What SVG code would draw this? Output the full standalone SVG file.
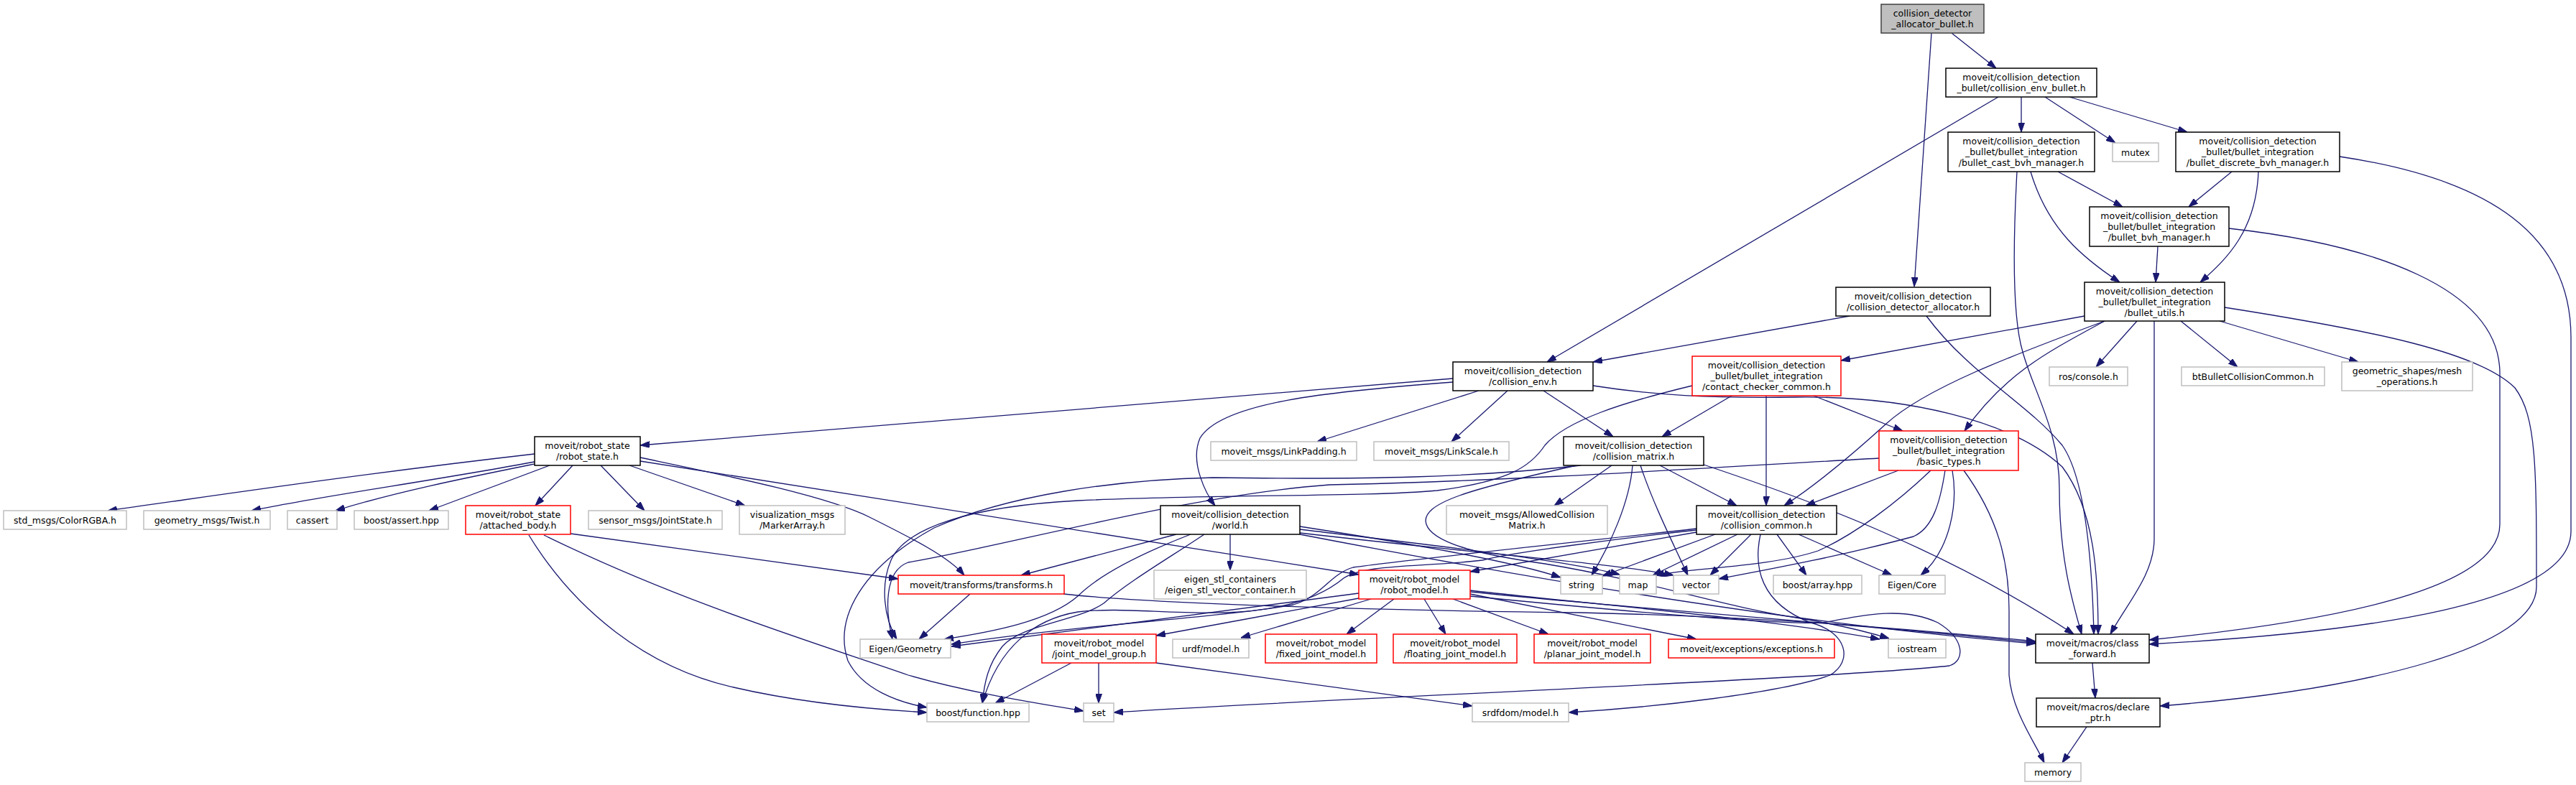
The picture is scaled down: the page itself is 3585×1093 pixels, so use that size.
<svg xmlns="http://www.w3.org/2000/svg" width="3585" height="1093" viewBox="0 0 3585 1093">
<defs>
<marker id="ah" viewBox="0 0 13 9" refX="13" refY="4.5" markerWidth="13" markerHeight="9" markerUnits="userSpaceOnUse" orient="auto"><path d="M0,0 L13,4.5 L0,9 z" fill="#191970" stroke="#191970" stroke-width="1"/></marker>
</defs>
<style>
.n rect{fill:#fff;stroke:#000;stroke-width:1.5}
.g rect{fill:#fff;stroke:#bfbfbf;stroke-width:1.5}
.r rect{fill:#fff;stroke:#ff0000;stroke-width:1.5}
.root rect{fill:#bfbfbf;stroke:#404040;stroke-width:1.5}
text{font-family:"DejaVu Sans","Liberation Sans",sans-serif;font-size:12.5px;fill:#000;text-anchor:middle}
#edges path{fill:none;stroke:#191970;stroke-width:1.3;marker-end:url(#ah)}
</style>
<rect width="3585" height="1093" fill="#fff"/>
<g id="edges">
<path d="M2716,46 L2778,95"/>
<path d="M2688,46 L2664,399"/>
<path d="M2781,135 L2153,504"/>
<path d="M2813,135 L2813,184"/>
<path d="M2846,135 L2944,199"/>
<path d="M2880,135 L3044,184"/>
<path d="M2864,239 L2954,288"/>
<path d="M2826,239 C2850,320 2900,360 2950,393"/>
<path d="M2807,239 C2802,330 2800,440 2815,490 C2830,545 2866,600 2866,680 C2866,780 2885,840 2897,883"/>
<path d="M3106,239 L3046,288"/>
<path d="M3143,239 C3140,320 3100,360 3062,393"/>
<path d="M3256,218 C3470,250 3578,330 3578,470 L3578,740 C3578,840 3300,880 2991,897"/>
<path d="M3003,343 L3000,393"/>
<path d="M3102,318 C3300,340 3479,400 3479,520 L3479,730 C3479,810 3300,860 2991,891"/>
<path d="M2574,440 L2217,504"/>
<path d="M2681,440 C2740,520 2820,560 2870,620 C2905,670 2912,800 2914,883"/>
<path d="M2901,440 L2562,502"/>
<path d="M2929,447 C2800,495 2680,540 2625,590 C2570,640 2520,680 2483,704"/>
<path d="M2929,447 C2850,490 2790,520 2734,600"/>
<path d="M2974,447 L2917,511"/>
<path d="M2998,447 L2998,750 C2998,800 2960,840 2937,883"/>
<path d="M3035,447 L3114,511"/>
<path d="M3089,447 L3282,504"/>
<path d="M3096,428 C3300,460 3450,490 3500,540 C3530,580 3530,650 3530,817 C3530,900 3300,960 3006,983"/>
<path d="M2022,527 L891,620"/>
<path d="M2022,532 C1850,545 1700,560 1670,610 C1655,645 1680,690 1691,704"/>
<path d="M2058,544 L1833,615"/>
<path d="M2098,544 L2020,615"/>
<path d="M2148,544 L2245,608"/>
<path d="M2217,537 C2300,550 2380,555 2500,553 C2650,551 2800,585 2870,650 C2915,710 2920,800 2920,883"/>
<path d="M2410,551 L2313,608"/>
<path d="M2458,551 L2458,704"/>
<path d="M2524,551 L2648,600"/>
<path d="M2355,537 C2260,560 2180,585 2150,620 C2130,650 2100,670 2000,683 C1900,692 1700,688 1500,697 C1350,705 1260,735 1240,780 C1225,815 1230,860 1248,890"/>
<path d="M744,632 C500,660 300,690 150,711"/>
<path d="M744,643 C600,670 450,690 350,711"/>
<path d="M744,646 C650,665 550,685 467,711"/>
<path d="M765,648 L597,711"/>
<path d="M797,648 L745,704"/>
<path d="M836,648 L897,711"/>
<path d="M876,648 L1037,704"/>
<path d="M891,637 C1000,660 1150,690 1210,720 C1270,750 1320,775 1342,801"/>
<path d="M891,642 L1891,800"/>
<path d="M794,743 L1250,806"/>
<path d="M757,745 C950,840 1150,900 1264,940 C1350,965 1450,980 1508,990"/>
<path d="M736,745 C800,850 900,930 1021,957 C1120,980 1220,988 1290,992"/>
<path d="M1712,744 L1712,794"/>
<path d="M1637,744 L1421,801"/>
<path d="M1657,744 C1590,770 1530,800 1500,830 C1460,865 1380,880 1314,890"/>
<path d="M1676,744 C1630,775 1570,810 1536,840 C1500,865 1420,870 1395,900 C1375,925 1370,950 1367,979"/>
<path d="M1809,733 C1950,755 2100,780 2172,804"/>
<path d="M1809,737 C2000,760 2180,780 2254,800"/>
<path d="M1809,742 C2050,770 2250,785 2329,801"/>
<path d="M1809,744 C2100,800 2500,870 2833,896"/>
<path d="M2243,648 L2163,704"/>
<path d="M2310,648 L2417,704"/>
<path d="M2272,648 C2268,700 2240,760 2215,801"/>
<path d="M2283,648 C2300,700 2330,760 2349,801"/>
<path d="M2371,647 C2500,690 2700,760 2886,883"/>
<path d="M2200,648 C2050,665 1900,668 1688,665 C1550,668 1400,690 1300,735 C1200,790 1160,860 1180,920 C1200,960 1250,978 1290,985"/>
<path d="M2194,648 C2050,680 1975,700 1985,730 C1995,760 2080,775 2150,785 C2300,810 2400,845 2500,860 C2560,870 2600,880 2629,889"/>
<path d="M2361,741 L2046,796"/>
<path d="M2361,736 C2150,760 1950,780 1883,790 C1850,800 1840,830 1800,842 C1700,860 1500,870 1324,897"/>
<path d="M2387,744 L2230,802"/>
<path d="M2418,744 L2300,801"/>
<path d="M2437,744 L2380,801"/>
<path d="M2473,744 L2514,801"/>
<path d="M2503,744 L2633,801"/>
<path d="M2450,744 C2440,790 2450,840 2520,867 C2570,880 2580,920 2547,940 C2480,965 2300,985 2183,992"/>
<path d="M2361,738 C2250,750 2100,770 2063,780 C1980,790 1900,785 1870,805 C1840,830 1790,850 1706,853 C1620,855 1560,845 1500,852 C1440,862 1390,900 1367,979"/>
<path d="M1891,826 C1750,845 1550,870 1324,900"/>
<path d="M1891,833 L1609,885"/>
<path d="M1908,834 L1727,888"/>
<path d="M1940,834 L1874,883"/>
<path d="M1982,834 L2012,883"/>
<path d="M2022,834 L2155,883"/>
<path d="M2046,827 L2361,890"/>
<path d="M2046,822 C2200,840 2450,860 2616,890"/>
<path d="M2046,824 C2300,850 2600,870 2833,895"/>
<path d="M1491,923 L1385,979"/>
<path d="M1529,923 L1529,979"/>
<path d="M1609,923 L2049,983"/>
<path d="M1350,827 L1279,890"/>
<path d="M1480,827 C1600,840 1900,850 2200,853 C2500,860 2700,880 2833,893"/>
<path d="M2642,655 L2513,704"/>
<path d="M2687,655 C2640,700 2580,745 2530,767 C2460,790 2360,790 2303,801"/>
<path d="M2707,655 C2700,700 2690,735 2663,747 C2560,775 2450,795 2392,806"/>
<path d="M2717,655 C2725,700 2715,765 2673,801"/>
<path d="M2733,655 C2780,720 2796,780 2796,850 L2796,940 C2800,990 2830,1030 2845,1062"/>
<path d="M2615,638 C2400,650 2100,670 1850,675 C1650,690 1400,760 1264,783 C1230,795 1232,850 1242,890"/>
<path d="M2912,923 L2916,972"/>
<path d="M2904,1012 L2870,1062"/>
<path d="M2046,830 C2300,855 2480,870 2537,867 C2600,855 2650,845 2697,867 C2735,890 2735,920 2713,927 C2550,945 1800,975 1550,992"/>
</g>
<g id="n_root" class="root"><rect x="2618" y="6" width="143" height="40"/><text><tspan x="2689.5" y="23">collision_detector</tspan><tspan x="2689.5" y="38">_allocator_bullet.h</tspan></text></g>
<g id="n_env_bullet" class="n"><rect x="2708" y="95" width="210" height="40"/><text><tspan x="2813" y="112">moveit/collision_detection</tspan><tspan x="2813" y="127">_bullet/collision_env_bullet.h</tspan></text></g>
<g id="n_bullet_cast" class="n"><rect x="2711" y="184" width="204" height="55"/><text><tspan x="2813" y="201">moveit/collision_detection</tspan><tspan x="2813" y="216">_bullet/bullet_integration</tspan><tspan x="2813" y="231">/bullet_cast_bvh_manager.h</tspan></text></g>
<g id="n_mutex" class="g"><rect x="2940" y="199" width="64" height="26"/><text x="2972" y="216.5">mutex</text></g>
<g id="n_discrete" class="n"><rect x="3028" y="184" width="228" height="55"/><text><tspan x="3142" y="201">moveit/collision_detection</tspan><tspan x="3142" y="216">_bullet/bullet_integration</tspan><tspan x="3142" y="231">/bullet_discrete_bvh_manager.h</tspan></text></g>
<g id="n_bvh_manager" class="n"><rect x="2908" y="288" width="194" height="55"/><text><tspan x="3005" y="305">moveit/collision_detection</tspan><tspan x="3005" y="320">_bullet/bullet_integration</tspan><tspan x="3005" y="335">/bullet_bvh_manager.h</tspan></text></g>
<g id="n_cd_allocator" class="n"><rect x="2555" y="400" width="215" height="40"/><text><tspan x="2662.5" y="417">moveit/collision_detection</tspan><tspan x="2662.5" y="432">/collision_detector_allocator.h</tspan></text></g>
<g id="n_bullet_utils" class="n"><rect x="2901" y="393" width="195" height="54"/><text><tspan x="2998.5" y="410">moveit/collision_detection</tspan><tspan x="2998.5" y="425">_bullet/bullet_integration</tspan><tspan x="2998.5" y="440">/bullet_utils.h</tspan></text></g>
<g id="n_collision_env" class="n"><rect x="2022" y="504" width="195" height="40"/><text><tspan x="2119.5" y="521">moveit/collision_detection</tspan><tspan x="2119.5" y="536">/collision_env.h</tspan></text></g>
<g id="n_contact_checker" class="r"><rect x="2355" y="496" width="207" height="55"/><text><tspan x="2458.5" y="513">moveit/collision_detection</tspan><tspan x="2458.5" y="528">_bullet/bullet_integration</tspan><tspan x="2458.5" y="543">/contact_checker_common.h</tspan></text></g>
<g id="n_ros_console" class="g"><rect x="2852" y="511" width="109" height="26"/><text x="2906.5" y="528.5">ros/console.h</text></g>
<g id="n_btbullet" class="g"><rect x="3036" y="511" width="199" height="26"/><text x="3135.5" y="528.5">btBulletCollisionCommon.h</text></g>
<g id="n_geometric" class="g"><rect x="3259" y="504" width="182" height="40"/><text><tspan x="3350" y="521">geometric_shapes/mesh</tspan><tspan x="3350" y="536">_operations.h</tspan></text></g>
<g id="n_robot_state" class="n"><rect x="744" y="608" width="147" height="40"/><text><tspan x="817.5" y="625">moveit/robot_state</tspan><tspan x="817.5" y="640">/robot_state.h</tspan></text></g>
<g id="n_linkpadding" class="g"><rect x="1685" y="615" width="203" height="26"/><text x="1786.5" y="632.5">moveit_msgs/LinkPadding.h</text></g>
<g id="n_linkscale" class="g"><rect x="1912" y="615" width="188" height="26"/><text x="2006" y="632.5">moveit_msgs/LinkScale.h</text></g>
<g id="n_collision_matrix" class="n"><rect x="2176" y="608" width="195" height="40"/><text><tspan x="2273.5" y="625">moveit/collision_detection</tspan><tspan x="2273.5" y="640">/collision_matrix.h</tspan></text></g>
<g id="n_basic_types" class="r"><rect x="2615" y="600" width="194" height="55"/><text><tspan x="2712" y="617">moveit/collision_detection</tspan><tspan x="2712" y="632">_bullet/bullet_integration</tspan><tspan x="2712" y="647">/basic_types.h</tspan></text></g>
<g id="n_colorrgba" class="g"><rect x="5" y="711" width="171" height="26"/><text x="90.5" y="728.5">std_msgs/ColorRGBA.h</text></g>
<g id="n_twist" class="g"><rect x="200" y="711" width="176" height="26"/><text x="288" y="728.5">geometry_msgs/Twist.h</text></g>
<g id="n_cassert" class="g"><rect x="400" y="711" width="69" height="26"/><text x="434.5" y="728.5">cassert</text></g>
<g id="n_boost_assert" class="g"><rect x="493" y="711" width="131" height="26"/><text x="558.5" y="728.5">boost/assert.hpp</text></g>
<g id="n_attached_body" class="r"><rect x="648" y="704" width="146" height="40"/><text><tspan x="721" y="721">moveit/robot_state</tspan><tspan x="721" y="736">/attached_body.h</tspan></text></g>
<g id="n_jointstate" class="g"><rect x="819" y="711" width="186" height="26"/><text x="912" y="728.5">sensor_msgs/JointState.h</text></g>
<g id="n_markerarray" class="g"><rect x="1029" y="704" width="147" height="40"/><text><tspan x="1102.5" y="721">visualization_msgs</tspan><tspan x="1102.5" y="736">/MarkerArray.h</tspan></text></g>
<g id="n_world" class="n"><rect x="1615" y="704" width="194" height="40"/><text><tspan x="1712" y="721">moveit/collision_detection</tspan><tspan x="1712" y="736">/world.h</tspan></text></g>
<g id="n_allowed" class="g"><rect x="2013" y="704" width="224" height="40"/><text><tspan x="2125" y="721">moveit_msgs/AllowedCollision</tspan><tspan x="2125" y="736">Matrix.h</tspan></text></g>
<g id="n_collision_common" class="n"><rect x="2361" y="704" width="195" height="40"/><text><tspan x="2458.5" y="721">moveit/collision_detection</tspan><tspan x="2458.5" y="736">/collision_common.h</tspan></text></g>
<g id="n_transforms" class="r"><rect x="1250" y="801" width="231" height="26"/><text x="1365.5" y="818.5">moveit/transforms/transforms.h</text></g>
<g id="n_eigen_stl" class="g"><rect x="1606" y="794" width="212" height="40"/><text><tspan x="1712" y="811">eigen_stl_containers</tspan><tspan x="1712" y="826">/eigen_stl_vector_container.h</tspan></text></g>
<g id="n_robot_model" class="r"><rect x="1891" y="794" width="155" height="40"/><text><tspan x="1968.5" y="811">moveit/robot_model</tspan><tspan x="1968.5" y="826">/robot_model.h</tspan></text></g>
<g id="n_string" class="g"><rect x="2172" y="801" width="58" height="26"/><text x="2201" y="818.5">string</text></g>
<g id="n_map" class="g"><rect x="2254" y="801" width="51" height="26"/><text x="2279.5" y="818.5">map</text></g>
<g id="n_vector" class="g"><rect x="2329" y="801" width="63" height="26"/><text x="2360.5" y="818.5">vector</text></g>
<g id="n_boost_array" class="g"><rect x="2468" y="801" width="123" height="26"/><text x="2529.5" y="818.5">boost/array.hpp</text></g>
<g id="n_eigen_core" class="g"><rect x="2615" y="801" width="92" height="26"/><text x="2661" y="818.5">Eigen/Core</text></g>
<g id="n_eigen_geometry" class="g"><rect x="1197" y="890" width="126" height="26"/><text x="1260" y="907.5">Eigen/Geometry</text></g>
<g id="n_jmg" class="r"><rect x="1450" y="883" width="159" height="40"/><text><tspan x="1529.5" y="900">moveit/robot_model</tspan><tspan x="1529.5" y="915">/joint_model_group.h</tspan></text></g>
<g id="n_urdf" class="g"><rect x="1632" y="890" width="106" height="26"/><text x="1685" y="907.5">urdf/model.h</text></g>
<g id="n_fixed" class="r"><rect x="1761" y="883" width="155" height="40"/><text><tspan x="1838.5" y="900">moveit/robot_model</tspan><tspan x="1838.5" y="915">/fixed_joint_model.h</tspan></text></g>
<g id="n_floating" class="r"><rect x="1939" y="883" width="172" height="40"/><text><tspan x="2025" y="900">moveit/robot_model</tspan><tspan x="2025" y="915">/floating_joint_model.h</tspan></text></g>
<g id="n_planar" class="r"><rect x="2135" y="883" width="162" height="40"/><text><tspan x="2216" y="900">moveit/robot_model</tspan><tspan x="2216" y="915">/planar_joint_model.h</tspan></text></g>
<g id="n_exceptions" class="r"><rect x="2322" y="890" width="231" height="26"/><text x="2437.5" y="907.5">moveit/exceptions/exceptions.h</text></g>
<g id="n_iostream" class="g"><rect x="2628" y="890" width="80" height="26"/><text x="2668" y="907.5">iostream</text></g>
<g id="n_class_forward" class="n"><rect x="2833" y="883" width="158" height="40"/><text><tspan x="2912" y="900">moveit/macros/class</tspan><tspan x="2912" y="915">_forward.h</tspan></text></g>
<g id="n_boost_function" class="g"><rect x="1290" y="979" width="142" height="26"/><text x="1361" y="996.5">boost/function.hpp</text></g>
<g id="n_set" class="g"><rect x="1508" y="979" width="42" height="26"/><text x="1529" y="996.5">set</text></g>
<g id="n_srdfdom" class="g"><rect x="2049" y="979" width="134" height="26"/><text x="2116" y="996.5">srdfdom/model.h</text></g>
<g id="n_declare_ptr" class="n"><rect x="2834" y="972" width="172" height="40"/><text><tspan x="2920" y="989">moveit/macros/declare</tspan><tspan x="2920" y="1004">_ptr.h</tspan></text></g>
<g id="n_memory" class="g"><rect x="2818" y="1062" width="78" height="26"/><text x="2857" y="1079.5">memory</text></g>
</svg>
